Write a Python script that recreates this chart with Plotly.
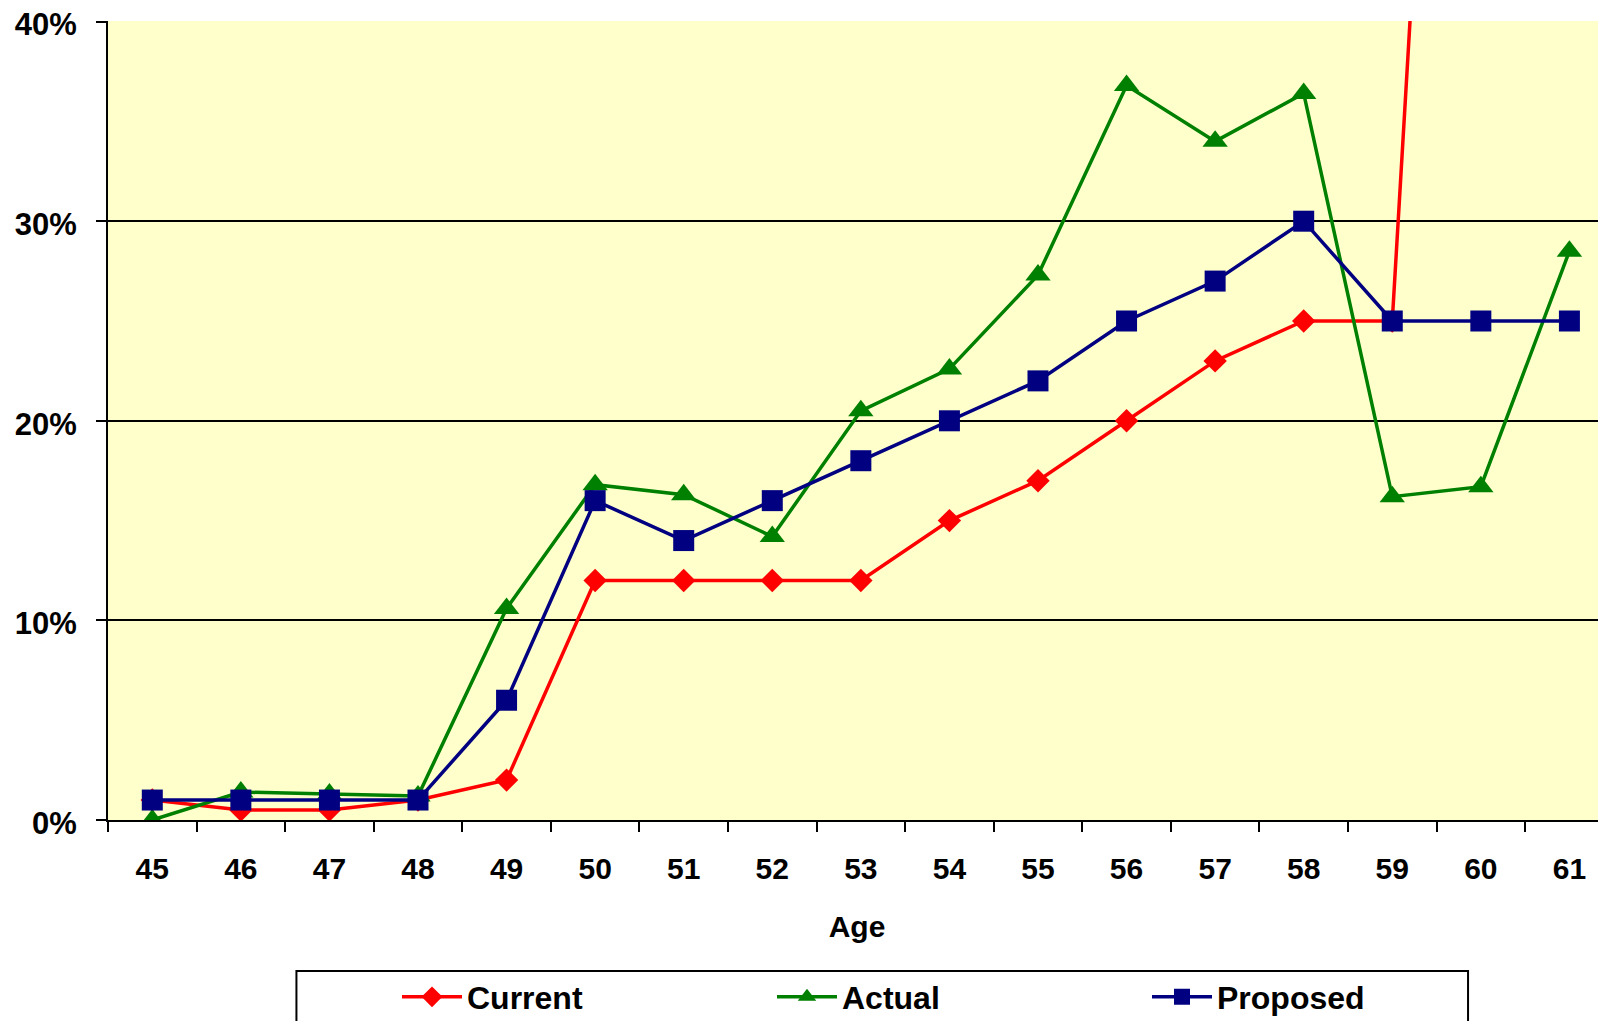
import plotly.graph_objects as go

ages = ["45", "46", "47", "48", "49", "50", "51", "52", "53", "54", "55", "56", "57", "58", "59", "60", "61"]
current = [0.010, 0.005, 0.005, 0.010, 0.020, 0.120, 0.120, 0.120, 0.120, 0.150, 0.170, 0.200, 0.230, 0.250, 0.250, 1.000, 1.000]
actual = [0.000, 0.014, 0.013, 0.012, 0.106, 0.168, 0.163, 0.142, 0.205, 0.226, 0.273, 0.368, 0.340, 0.364, 0.162, 0.167, 0.285]
proposed = [0.010, 0.010, 0.010, 0.010, 0.060, 0.160, 0.140, 0.160, 0.180, 0.200, 0.220, 0.250, 0.270, 0.300, 0.250, 0.250, 0.250]
y_ticks = [0, 0.1, 0.2, 0.3, 0.4]

FONT = "Liberation Sans, Arial, sans-serif"
# page offset of 8px (body margin) is compensated below
W, H = 1598, 1013
L, T, B = 99.5, 12.5, 201

fig = go.Figure()
fig.add_trace(go.Scatter(x=ages, y=current, name="Current", mode="lines+markers",
                         line=dict(color="#FF0000", width=3.5),
                         marker=dict(symbol="diamond", size=18, color="#FF0000")))
fig.add_trace(go.Scatter(x=ages, y=actual, name="Actual", mode="lines+markers",
                         line=dict(color="#008000", width=3.5),
                         marker=dict(symbol="triangle-up", size=22, color="#008000")))
fig.add_trace(go.Scatter(x=ages, y=proposed, name="Proposed", mode="lines+markers",
                         line=dict(color="#000080", width=3.5),
                         marker=dict(symbol="square", size=21, color="#000080")))

plot_w = W - L
plot_h = H - T - B
cat_w = 88.6
fig.update_layout(
    width=W, height=H,
    margin=dict(l=L, r=0, t=T, b=B, autoexpand=False),
    paper_bgcolor="white",
    plot_bgcolor="#FFFFCC",
    font=dict(family=FONT, size=30, color="black", weight="bold"),
    showlegend=True,
    legend=dict(orientation="h", xref="container", yref="container",
                x=389 / W, xanchor="left", y=1 - 989 / H, yanchor="middle",
                bgcolor="rgba(0,0,0,0)", borderwidth=0,
                itemwidth=60, entrywidth=300, entrywidthmode="pixels",
                font=dict(family=FONT, size=32, color="black", weight="bold")),
    xaxis=dict(type="category", range=[-0.5, -0.5 + plot_w / cat_w],
               tickson="boundaries", ticks="outside", ticklen=10, tickwidth=1.5, tickcolor="black",
               showline=True, linecolor="black", linewidth=2, showgrid=False,
               ticklabelstandoff=21,
               title=dict(text="Age", standoff=32, font=dict(family=FONT, size=30, weight="bold"))),
    yaxis=dict(range=[0, 0.4003], tickvals=y_ticks, tickformat=".0%",
               ticks="outside", ticklen=10, tickwidth=1.5, tickcolor="black",
               showline=True, linecolor="black", linewidth=2,
               showgrid=True, gridcolor="black", gridwidth=1.5,
               zeroline=False, ticklabelstandoff=13, ticklabeloverflow="allow",
               ticklabelshift=3,
               tickfont=dict(family=FONT, size=31, weight="bold")),
    shapes=[dict(type="rect", xref="paper", yref="paper",
                 x0=(288 - L) / plot_w, x1=(1460 - L) / plot_w,
                 y0=(H - B - 963) / plot_h, y1=(H - B - 1060) / plot_h,
                 line=dict(color="black", width=2), fillcolor="white", layer="below")],
)
fig.write_html("out.html")
